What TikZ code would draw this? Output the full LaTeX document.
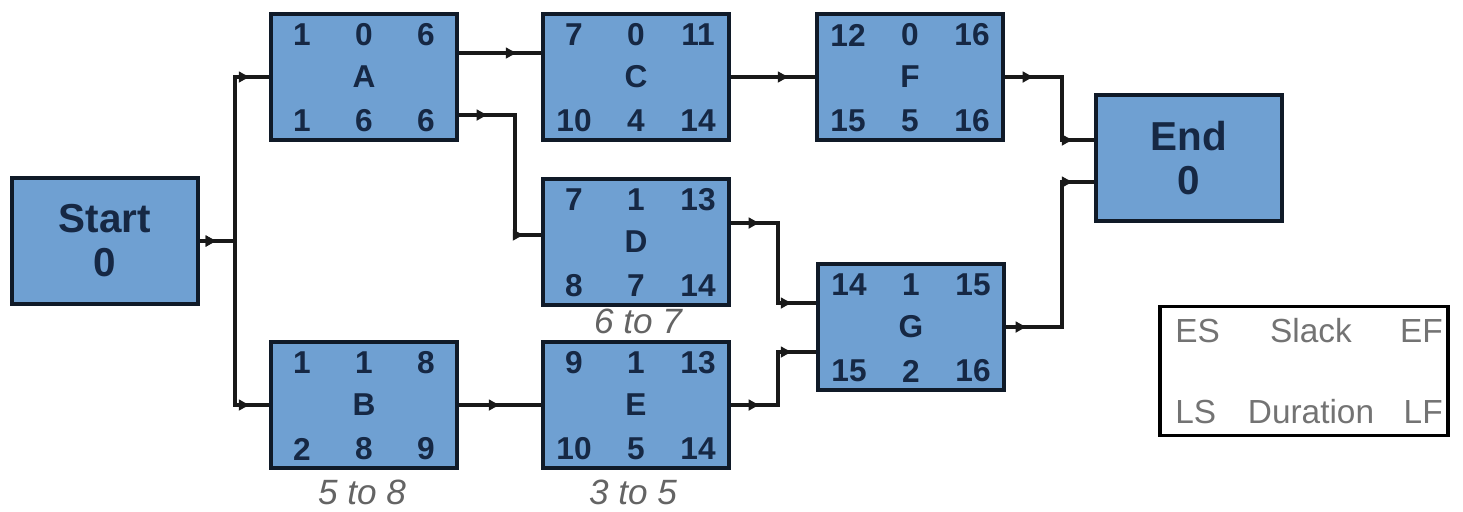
\documentclass[tikz,border=0pt]{standalone}
\usepackage{fontspec}
\setmainfont{Liberation Sans}
\usetikzlibrary{arrows.meta,decorations.markings}

\definecolor{boxFill}{RGB}{111,160,210}
\definecolor{boxEdge}{RGB}{16,26,40}
\definecolor{boxText}{RGB}{22,40,68}
\definecolor{noteGray}{RGB}{100,100,100}
\definecolor{keyGray}{RGB}{115,115,115}

\begin{document}
\begin{tikzpicture}[x=0.02cm, y=-0.02cm,
  actBox/.style={draw=boxEdge, line width=2.2pt, fill=boxFill,
    minimum width=3.72cm, minimum height=2.52cm, inner sep=0pt},
  actText/.style={inner sep=0pt, text=boxText,
    font=\fontsize{18}{20}\selectfont\bfseries},
  endText/.style={align=center, text=boxText,
    font=\fontsize{23}{25}\selectfont\bfseries},
  spanText/.style={inner sep=0pt, text=noteGray,
    font=\fontsize{20}{22}\selectfont\itshape},
  keyText/.style={inner sep=0pt, text=keyGray,
    font=\fontsize{19}{21}\selectfont},
  link/.style={draw=black!90, line width=2pt},
  arrowAt/.style={postaction={decorate, decoration={markings,
    mark=at position #1 with {\arrow{Latex[length=7pt,width=7pt]}}}}}
  ]
  \useasboundingbox (0,0) rectangle (1463,511);

  % activity box: name, centre, ES slack EF, LS duration LF
  \def\task#1#2#3#4#5#6#7#8{%
    \node[actBox] (#1) at (#2) {};
    \node[actText] at (#1.center) {#1};
    \node[actText] at ([shift={(-62,-42)}]#1.center) {#3};
    \node[actText] at ([shift={(0,-42)}]#1.center) {#4};
    \node[actText] at ([shift={(62,-42)}]#1.center) {#5};
    \node[actText] at ([shift={(-62,44)}]#1.center) {#6};
    \node[actText] at ([shift={(0,44)}]#1.center) {#7};
    \node[actText] at ([shift={(62,44)}]#1.center) {#8};
  }

  \node[actBox, endText] (Start) at (105,241) {Start\\0};
  \node[actBox, endText] (End) at (1189,158) {End\\0};

  \task{A}{364,77}{1}{0}{6}{1}{6}{6}
  \task{C}{636,77}{7}{0}{11}{10}{4}{14}
  \task{F}{910,77}{12}{0}{16}{15}{5}{16}
  \task{D}{636,242}{7}{1}{13}{8}{7}{14}
  \task{G}{911,327}{14}{1}{15}{15}{2}{16}
  \task{B}{364,405}{1}{1}{8}{2}{8}{9}
  \task{E}{636,405}{9}{1}{13}{10}{5}{14}

  % time spans
  \node[spanText] (dSpan) at (638,321) {6 to 7};
  \node[spanText] (bSpan) at (362,492) {5 to 8};
  \node[spanText] (eSpan) at (633,492) {3 to 5};

  % connectors
  \coordinate (bus) at (235,241);
  \draw[link, arrowAt=0.36cm, arrowAt=-0.36cm] (Start.east) -- (bus) |- (A.west);
  \draw[link, arrowAt=0.36cm, arrowAt=-0.36cm] (Start.east) -- (bus) |- (B.west);
  \draw[link, arrowAt=-0.46cm] ([shift={(0,-24)}]A.east) -- ([shift={(0,-24)}]C.west);
  \draw[link, arrowAt=0.6cm, arrowAt=-0.32cm]
    ([shift={(0,38)}]A.east) -- ++(56,0) |- ([shift={(0,-7)}]D.west);
  \draw[link, arrowAt=-0.5cm] (C.east) -- (F.west);
  \draw[link, arrowAt=-0.8cm] (B.east) -- (E.west);
  \draw[link, arrowAt=0.6cm, arrowAt=-0.46cm]
    ([shift={(0,-19)}]D.east) -- ++(47,0) |- ([shift={(0,-24)}]G.west);
  \draw[link, arrowAt=0.6cm, arrowAt=-0.46cm]
    (E.east) -- ++(47,0) |- ([shift={(0,25)}]G.west);
  \draw[link, arrowAt=0.6cm, arrowAt=-0.4cm]
    (F.east) -- ++(57,0) |- ([shift={(0,-18)}]End.west);
  \draw[link, arrowAt=0.44cm, arrowAt=-0.4cm]
    (G.east) -- ++(56,0) |- ([shift={(0,24)}]End.west);

  % legend
  \node[draw=black, line width=1.8pt, minimum width=5.76cm,
    minimum height=2.58cm, inner sep=0pt] (key) at (1304,371) {};
  \node[keyText, anchor=west] at (1175,331) {ES};
  \node[keyText] at (1311,331) {Slack};
  \node[keyText, anchor=east] at (1443,331) {EF};
  \node[keyText, anchor=west] at (1175,412) {LS};
  \node[keyText] at (1311,412) {Duration};
  \node[keyText, anchor=east] at (1443,412) {LF};
\end{tikzpicture}
\end{document}
